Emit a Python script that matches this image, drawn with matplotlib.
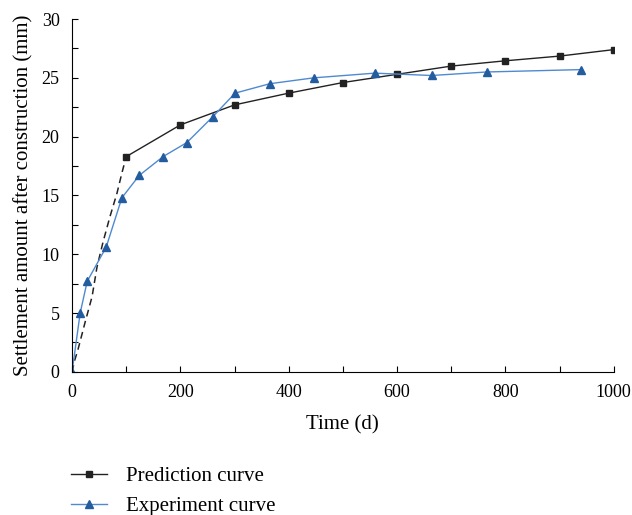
import matplotlib
matplotlib.use("Agg")
import matplotlib.pyplot as plt
from matplotlib.ticker import MultipleLocator

plt.rcParams['font.family'] = ['Liberation Serif', 'DejaVu Serif']

# prediction curve (markers)
pred_t = [100, 200, 300, 400, 500, 600, 700, 800, 900, 1000]
pred_s = [18.3, 21.0, 22.7, 23.7, 24.6, 25.3, 26.0, 26.45, 26.85, 27.4]
# dashed early part of prediction
dash_t = [0, 5, 11, 24, 37, 46, 57, 70, 83, 92, 100]
dash_s = [0, 1.0, 1.9, 4.2, 6.4, 8.9, 11.0, 13.2, 15.2, 16.9, 18.3]
# experiment curve
exp_t = [0, 15, 28, 63, 92, 124, 168, 212, 260, 301, 365, 446, 559, 664, 766, 939]
exp_s = [0, 5.0, 7.7, 10.6, 14.8, 16.7, 18.3, 19.5, 21.7, 23.7, 24.5, 25.0, 25.4, 25.2, 25.5, 25.7]

fig = plt.figure(figsize=(6.32, 5.15), dpi=100)
ax = fig.add_axes([0.114, 0.278, 0.857, 0.685])

ax.plot(dash_t, dash_s, color="#222222", lw=1.1, ls=(0, (4.5, 3)))
l1, = ax.plot(pred_t, pred_s, color="#222222", lw=1.0, marker="s", ms=4,
              label="Prediction curve")
l2, = ax.plot(exp_t, exp_s, color="#4f8ad0", lw=1.0, marker="^", ms=5.5,
              mfc="#245d9f", mec="#245d9f", label="Experiment curve")

ax.set_xlim(0, 1000)
ax.set_ylim(0, 30)
ax.xaxis.set_major_locator(MultipleLocator(200))
ax.xaxis.set_minor_locator(MultipleLocator(100))
ax.yaxis.set_major_locator(MultipleLocator(5))
ax.yaxis.set_minor_locator(MultipleLocator(2.5))
ax.tick_params(which="both", direction="in", length=4, width=0.8, labelsize=13, pad=9)
ax.spines["top"].set_visible(False)
ax.spines["right"].set_visible(False)
ax.set_xlabel("Time (d)", fontsize=15, labelpad=10)
ax.set_ylabel("Settlement amount after construction (mm)", fontsize=15, labelpad=6)

fig.legend(handles=[l1, l2], loc="upper left", bbox_to_anchor=(0.09, 0.122),
           frameon=False, fontsize=15, handlelength=1.7, handletextpad=0.9,
           labelspacing=0.5, borderpad=0.2)

fig.savefig("out.png", dpi=100)
